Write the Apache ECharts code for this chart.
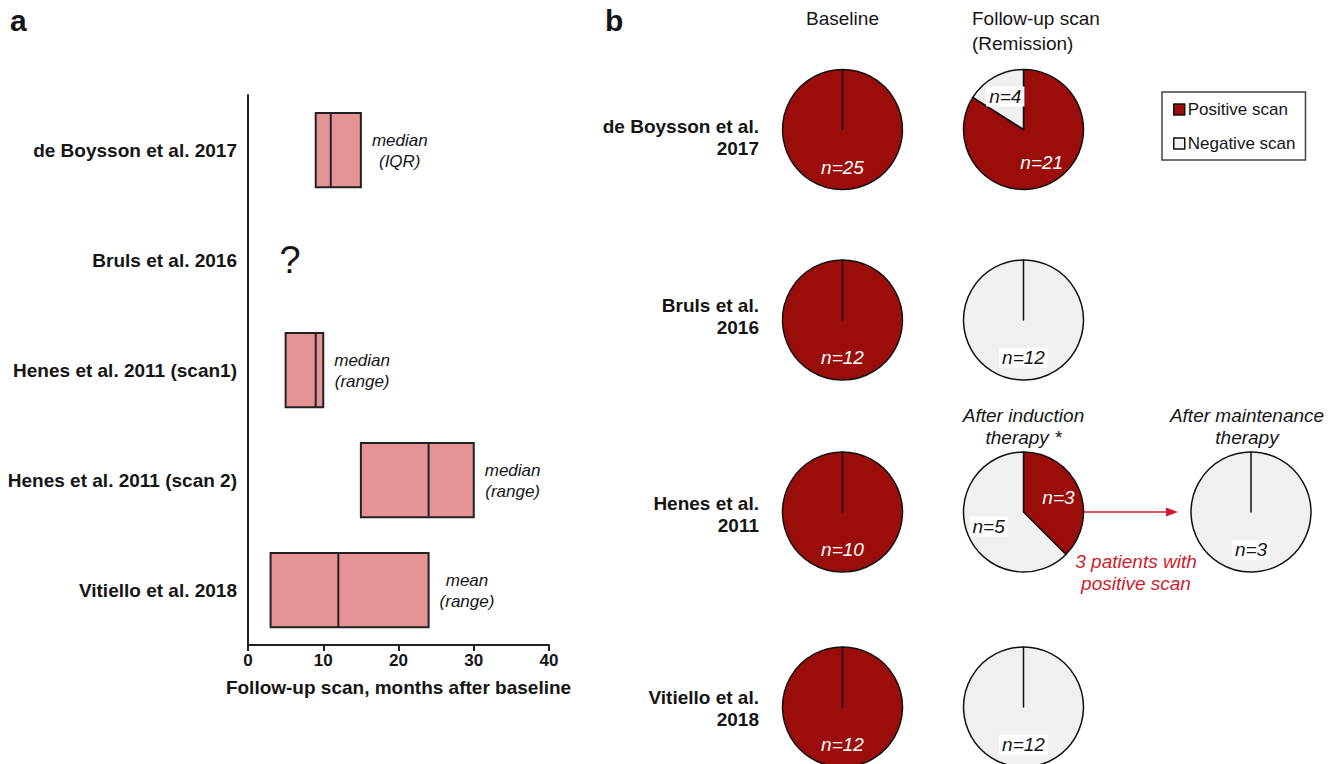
<!DOCTYPE html>
<html>
<head>
<meta charset="utf-8"/>
<title>Follow-up scans</title>
<script src="https://cdn.jsdelivr.net/npm/echarts@6/dist/echarts.min.js"></script>
<style>
    html, body { margin: 0; padding: 0; background: #fff; }
    #chart { width: 1338px; height: 764px; }
</style>
</head>
<body>
<div id="chart"></div>
<script>
// panel a: months after baseline (low / middle / high)
var studies = ['de Boysson et al. 2017', 'Bruls et al. 2016', 'Henes et al. 2011 (scan1)',
               'Henes et al. 2011 (scan 2)', 'Vitiello et al. 2018'];
var scanLow  = [9, null, 5, 15, 3];
var scanMid  = [11, null, 9, 24, 12];
var scanHigh = [15, null, 10, 30, 24];
var scanStat = ['median\n(IQR)', '?', 'median\n(range)', 'median\n(range)', 'mean\n(range)'];

// panel b: scan counts
var pieStudies = ['de Boysson et al.\n2017', 'Bruls et al.\n2016', 'Henes et al.\n2011', 'Vitiello et al.\n2018'];
var basePositive   = [25, 12, 10, 12];
var baseNegative   = [0, 0, 0, 0];
var followPositive = [21, 0, 3, 0];
var followNegative = [4, 12, 5, 12];
var maintPositive  = [0];   // Henes 2011 only
var maintNegative  = [3];

var FONT = "'Liberation Sans', Arial, Helvetica, sans-serif";
var RED = '#9a0d0a', GREY = '#f0f0f0', BOX = '#e59394', INK = '#151515', ARROW = '#cf1b2b';
var pieR = 60;
var pieCols = [842.5, 1023.5, 1251];
var pieRows = [129.5, 320, 512, 707];
var rowLabelY = [137.5, 316.5, 514.5, 708];

var measure = document.createElement('canvas').getContext('2d');
function textWidth(str, font) {
    measure.font = font;
    return Math.max.apply(null, str.split('\n').map(function (s) { return measure.measureText(s).width; }));
}

function renderBox(params, api) {
    var i = params.dataIndex;
    var c = api.coord([0, api.value(0)]);
    var lo = api.value(1), md = api.value(2), hi = api.value(3);
    if (isNaN(lo)) {
        return {type: 'text', x: c[0] + 42, y: c[1],
            style: {text: scanStat[i], fontSize: 38, fontFamily: FONT, fill: INK, align: 'center', verticalAlign: 'middle'}};
    }
    var h = api.size([0, 1])[1] * 0.675;
    var pl = api.coord([lo, api.value(0)]), pm = api.coord([md, api.value(0)]), ph = api.coord([hi, api.value(0)]);
    var w = textWidth(scanStat[i], 'italic 17px ' + FONT);
    return {type: 'group', children: [
        {type: 'rect', shape: {x: pl[0], y: c[1] - h / 2, width: ph[0] - pl[0], height: h},
            style: {fill: BOX, stroke: '#222', lineWidth: 2}},
        {type: 'line', shape: {x1: pm[0], y1: c[1] - h / 2, x2: pm[0], y2: c[1] + h / 2},
            style: {stroke: '#222', lineWidth: 2}},
        {type: 'text', x: ph[0] + 11 + w / 2, y: c[1] + 1,
            style: {text: scanStat[i], fontSize: 17, fontStyle: 'italic', fontFamily: FONT, fill: INK,
                align: 'center', verticalAlign: 'middle', lineHeight: 21}}
    ]};
}

function pieSeries(pos, neg, cx, cy) {
    var items = [
        {name: 'Positive scan', value: pos, itemStyle: {color: RED},
            label: {show: pos > 0, color: '#fff'}},
        {name: 'Negative scan', value: neg, itemStyle: {color: GREY},
            label: {show: neg > 0, color: INK, backgroundColor: '#fff', padding: [1, 3, 0, 3]}}
    ];
    if (pos === 0) items.reverse();   // keep the empty slice on top so its edge shows
    var total = pos + neg;
    return {
        type: 'pie', center: [cx, cy], radius: [0, pieR], startAngle: 90, clockwise: true,
        silent: true, animation: false, data: items,
        itemStyle: {borderColor: '#111', borderWidth: 1.5},
        label: {position: 'inside', formatter: function (p) { return 'n=' + p.value; },
            fontSize: 19, fontStyle: 'italic', fontFamily: FONT, lineHeight: 19},
        labelLine: {show: false},
        emphasis: {disabled: true},
        labelLayout: function (p) {
            var before = 0;
            for (var k = 0; k < p.dataIndex; k++) before += items[k].value;
            var mid = (90 - (before + items[p.dataIndex].value / 2) / total * 360) * Math.PI / 180;
            return {x: cx + 0.63 * pieR * Math.cos(mid), y: cy - 0.63 * pieR * Math.sin(mid)};
        }
    };
}

var series = [{
    type: 'custom', renderItem: renderBox, silent: true, animation: false,
    encode: {x: [1, 2, 3], y: 0},
    data: studies.map(function (s, i) { return [i, scanLow[i], scanMid[i], scanHigh[i]]; })
}];
pieStudies.forEach(function (s, i) {
    series.push(pieSeries(basePositive[i], baseNegative[i], pieCols[0], pieRows[i]));
    series.push(pieSeries(followPositive[i], followNegative[i], pieCols[1], pieRows[i]));
});
series.push(pieSeries(maintPositive[0], maintNegative[0], pieCols[2], pieRows[2]));

function txt(str, x, y, o) {
    o = o || {};
    return {type: 'text', x: x, y: y, silent: true, style: {
        text: str, fontFamily: FONT, fontSize: o.size || 19, fontWeight: o.weight || 'normal',
        fontStyle: o.style || 'normal', fill: o.color || INK, align: o.align || 'center',
        verticalAlign: 'middle', lineHeight: o.lh || 22}};
}

var graphics = [
    txt('a', 10, 20, {size: 30, weight: 'bold', align: 'left'}),
    txt('b', 605, 20, {size: 30, weight: 'bold', align: 'left'}),
    txt('Baseline', pieCols[0], 18),
    txt('Follow-up scan\n(Remission)', 972, 30.5, {align: 'left', lh: 25}),
    txt('After induction\ntherapy *', pieCols[1], 426, {style: 'italic'}),
    txt('After maintenance\ntherapy', 1247, 426, {style: 'italic'}),
    txt('3 patients with\npositive scan', 1136, 572, {style: 'italic', color: ARROW}),
    {type: 'line', silent: true,
        shape: {x1: pieCols[1] + pieR, y1: pieRows[2], x2: pieCols[2] - pieR - 22, y2: pieRows[2]},
        style: {stroke: ARROW, lineWidth: 1.5}},
    {type: 'polygon', silent: true,
        shape: {points: [[pieCols[2] - pieR - 13, pieRows[2]], [pieCols[2] - pieR - 25, pieRows[2] - 4.5],
                         [pieCols[2] - pieR - 25, pieRows[2] + 4.5]]},
        style: {fill: ARROW}}
];
pieStudies.forEach(function (s, i) {
    graphics.push(txt(s, 759, rowLabelY[i], {weight: 'bold', align: 'right'}));
});

var chart = echarts.init(document.getElementById('chart'), null, {renderer: 'svg'});
chart.setOption({
    animation: false,
    textStyle: {fontFamily: FONT},
    grid: {left: 248, top: 95, width: 301, height: 550, outerBoundsMode: 'none'},
    xAxis: {
        type: 'value', min: 0, max: 40, interval: 10,
        axisLine: {show: true, lineStyle: {color: '#222', width: 2}},
        axisTick: {show: true, length: 6, lineStyle: {color: '#222', width: 2}},
        splitLine: {show: false},
        axisLabel: {fontSize: 17, fontWeight: 'bold', color: INK, margin: 7, fontFamily: FONT},
        name: 'Follow-up scan, months after baseline', nameLocation: 'middle', nameGap: 33,
        nameTextStyle: {fontSize: 19, fontWeight: 'bold', color: INK, fontFamily: FONT}
    },
    yAxis: {
        type: 'category', inverse: true, data: studies,
        axisLine: {show: true, lineStyle: {color: '#222', width: 2}},
        axisTick: {show: false},
        axisLabel: {fontSize: 19, fontWeight: 'bold', color: INK, margin: 11, fontFamily: FONT}
    },
    legend: {
        orient: 'vertical', left: 1162, top: 92, selectedMode: false,
        data: ['Positive scan', 'Negative scan'],
        icon: 'rect', itemWidth: 11, itemHeight: 11, itemGap: 17,
        padding: [9, 10, 8, 11],
        borderColor: '#444', borderWidth: 1.5,
        itemStyle: {borderColor: '#111', borderWidth: 1.5},
        textStyle: {fontSize: 17, color: INK, fontFamily: FONT, padding: [0, 0, 0, -2]}
    },
    series: series,
    graphic: graphics
});
</script>
</body>
</html>
